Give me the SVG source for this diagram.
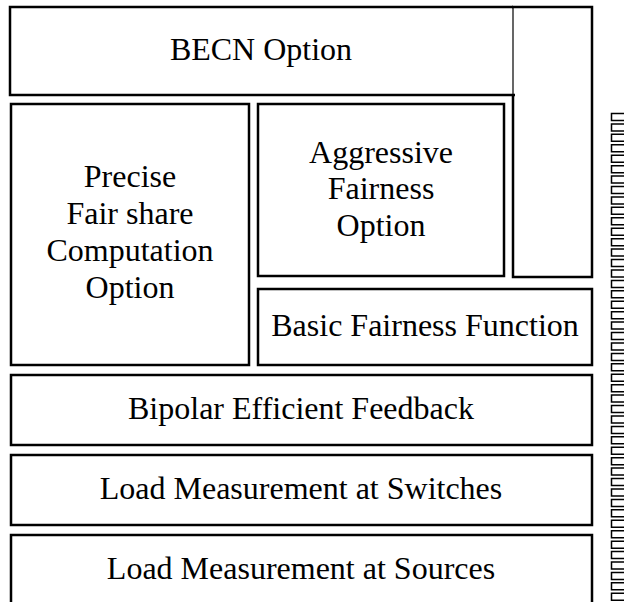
<svg xmlns="http://www.w3.org/2000/svg" width="624" height="602" viewBox="0 0 624 602">
  <style>
    .box { fill: none; stroke: #000; stroke-width: 2.5; }
    .thin { fill: none; stroke: #000; stroke-width: 1.2; }
    .lbl { font-family: 'Liberation Serif', 'Times New Roman', serif; font-size: 32px; fill: #000; text-anchor: middle; }
    .tofu { fill: #fff; stroke: #000; stroke-width: 1.5; }
  </style>
  <rect width="624" height="602" fill="#fff" />

  <g id="becn">
    <path class="box" d="M513,7 H10 V95 H515" />
    <line class="thin" x1="513" y1="7" x2="513" y2="95" />
    <text class="lbl" x="261" y="60">BECN Option</text>
  </g>

  <g id="side-column">
    <path class="box" d="M513,95 V277 H592 V7 H512" />
  </g>

  <g id="precise">
    <rect class="box" x="11" y="104" width="238" height="261" />
    <text class="lbl" x="130" y="187">Precise</text>
    <text class="lbl" x="130" y="224">Fair share</text>
    <text class="lbl" x="130" y="261">Computation</text>
    <text class="lbl" x="130" y="298">Option</text>
  </g>

  <g id="aggressive">
    <rect class="box" x="258" y="104" width="246" height="172" />
    <text class="lbl" x="381" y="163">Aggressive</text>
    <text class="lbl" x="381" y="199">Fairness</text>
    <text class="lbl" x="381" y="236">Option</text>
  </g>

  <g id="basic">
    <rect class="box" x="258" y="289" width="334" height="76" />
    <text class="lbl" x="425" y="336">Basic Fairness Function</text>
  </g>

  <g id="bipolar">
    <rect class="box" x="11" y="375" width="581" height="70" />
    <text class="lbl" x="301" y="419">Bipolar Efficient Feedback</text>
  </g>

  <g id="load-switches">
    <rect class="box" x="11" y="455" width="581" height="70" />
    <text class="lbl" x="301" y="499">Load Measurement at Switches</text>
  </g>

  <g id="load-sources">
    <rect class="box" x="11" y="535" width="581" height="80" />
    <text class="lbl" x="301" y="579">Load Measurement at Sources</text>
  </g>

  <g id="connectors"></g>

  <!-- column of small boxes along the right edge -->
  <path class="tofu" d="M611.5,113.5
    h14v7h-14z m0,10.43 h14v7h-14z m0,10.43 h14v7h-14z m0,10.43 h14v7h-14z m0,10.43 h14v7h-14z
    m0,10.43 h14v7h-14z m0,10.43 h14v7h-14z m0,10.43 h14v7h-14z m0,10.43 h14v7h-14z m0,10.43 h14v7h-14z
    m0,10.43 h14v7h-14z m0,10.43 h14v7h-14z m0,10.43 h14v7h-14z m0,10.43 h14v7h-14z m0,10.43 h14v7h-14z
    m0,10.43 h14v7h-14z m0,10.43 h14v7h-14z m0,10.43 h14v7h-14z m0,10.43 h14v7h-14z m0,10.43 h14v7h-14z
    m0,10.43 h14v7h-14z m0,10.43 h14v7h-14z m0,10.43 h14v7h-14z m0,10.43 h14v7h-14z m0,10.43 h14v7h-14z
    m0,10.43 h14v7h-14z m0,10.43 h14v7h-14z m0,10.43 h14v7h-14z m0,10.43 h14v7h-14z m0,10.43 h14v7h-14z
    m0,10.43 h14v7h-14z m0,10.43 h14v7h-14z m0,10.43 h14v7h-14z m0,10.43 h14v7h-14z m0,10.43 h14v7h-14z
    m0,10.43 h14v7h-14z m0,10.43 h14v7h-14z m0,10.43 h14v7h-14z m0,10.43 h14v7h-14z m0,10.43 h14v7h-14z
    m0,10.43 h14v7h-14z m0,10.43 h14v7h-14z m0,10.43 h14v7h-14z m0,10.43 h14v7h-14z m0,10.43 h14v7h-14z
    m0,10.43 h14v7h-14z m0,10.43 h14v7h-14z" />
</svg>
